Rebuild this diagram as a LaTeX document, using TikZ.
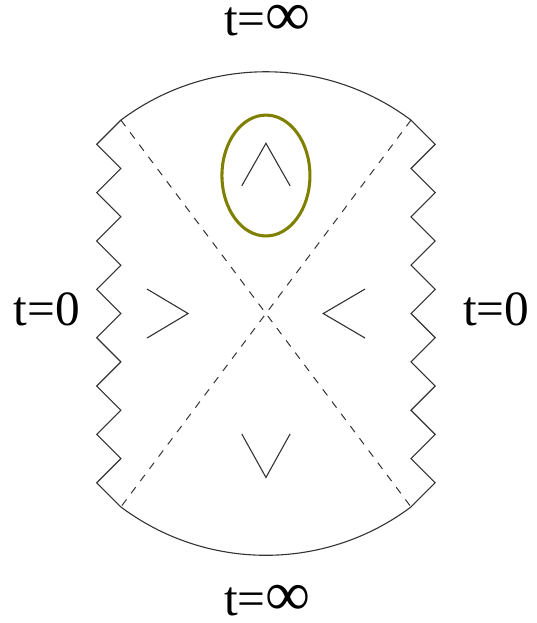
\documentclass[tikz,border=0pt]{standalone}
\usepackage{fontspec}
\setmainfont{Liberation Serif}
\usepackage{tikz}
\usetikzlibrary{positioning}
\definecolor{Ink}{HTML}{333333}
\definecolor{Mark}{HTML}{808000}
\newcommand{\labfont}{\fontsize{29pt}{30pt}\selectfont}
\newcommand{\bigINF}{\scalebox{1.28}{∞}}

\begin{document}
\begin{tikzpicture}[x=1cm,y=1cm,line join=miter]
  \useasboundingbox (-5.50,-6.40) rectangle (5.605,6.484);
  \tikzset{edge/.style={Ink,line width=0.65pt},
    horizon/.style={Ink,line width=0.6pt,dash pattern=on 4.5pt off 4.5pt},
    tlabel/.style={font=\labfont,inner sep=0pt,anchor=base}}
  \coordinate (tl) at (-3,4);
  \coordinate (tr) at (3,4);
  \coordinate (bl) at (-3,-4);
  \coordinate (br) at (3,-4);
  \coordinate (mid) at (0,0);
  \draw[edge] (tl) foreach \k in {1,...,8} { -- ++(-0.5,-0.5) -- ++(0.5,-0.5) };
  \draw[edge] (tr) foreach \k in {1,...,8} { -- ++(0.5,-0.5) -- ++(-0.5,-0.5) };
  \draw[edge] (tl) arc[start angle=126.87,end angle=53.13,radius=5];
  \draw[edge] (bl) arc[start angle=233.13,end angle=306.87,radius=5];
  \draw[horizon] (tl) -- (mid) -- (br);
  \draw[horizon] (tr) -- (mid) -- (bl);
  \draw[edge] (-2.46,0.507) -- (-1.61,0) -- (-2.46,-0.507);
  \draw[edge] (2.05,0.507) -- (1.185,0) -- (2.05,-0.507);
  \draw[edge] (-0.5,2.64) -- (0,3.52) -- (0.5,2.64);
  \draw[edge] (-0.5,-2.49) -- (0,-3.39) -- (0.5,-2.49);
  \draw[Mark,line width=1.8pt] (0,2.854) ellipse[x radius=0.91,y radius=1.25];
  \node[tlabel,anchor=base west] (top) at (-0.87,5.76) {t=\bigINF};
  \node[tlabel,anchor=base west] (bottom) at (-0.87,-6.24) {t=\bigINF};
  \node[tlabel] (left) at (-4.53,-0.24) {t=0};
  \node[tlabel] (right) at (4.76,-0.24) {t=0};
\end{tikzpicture}
\end{document}
